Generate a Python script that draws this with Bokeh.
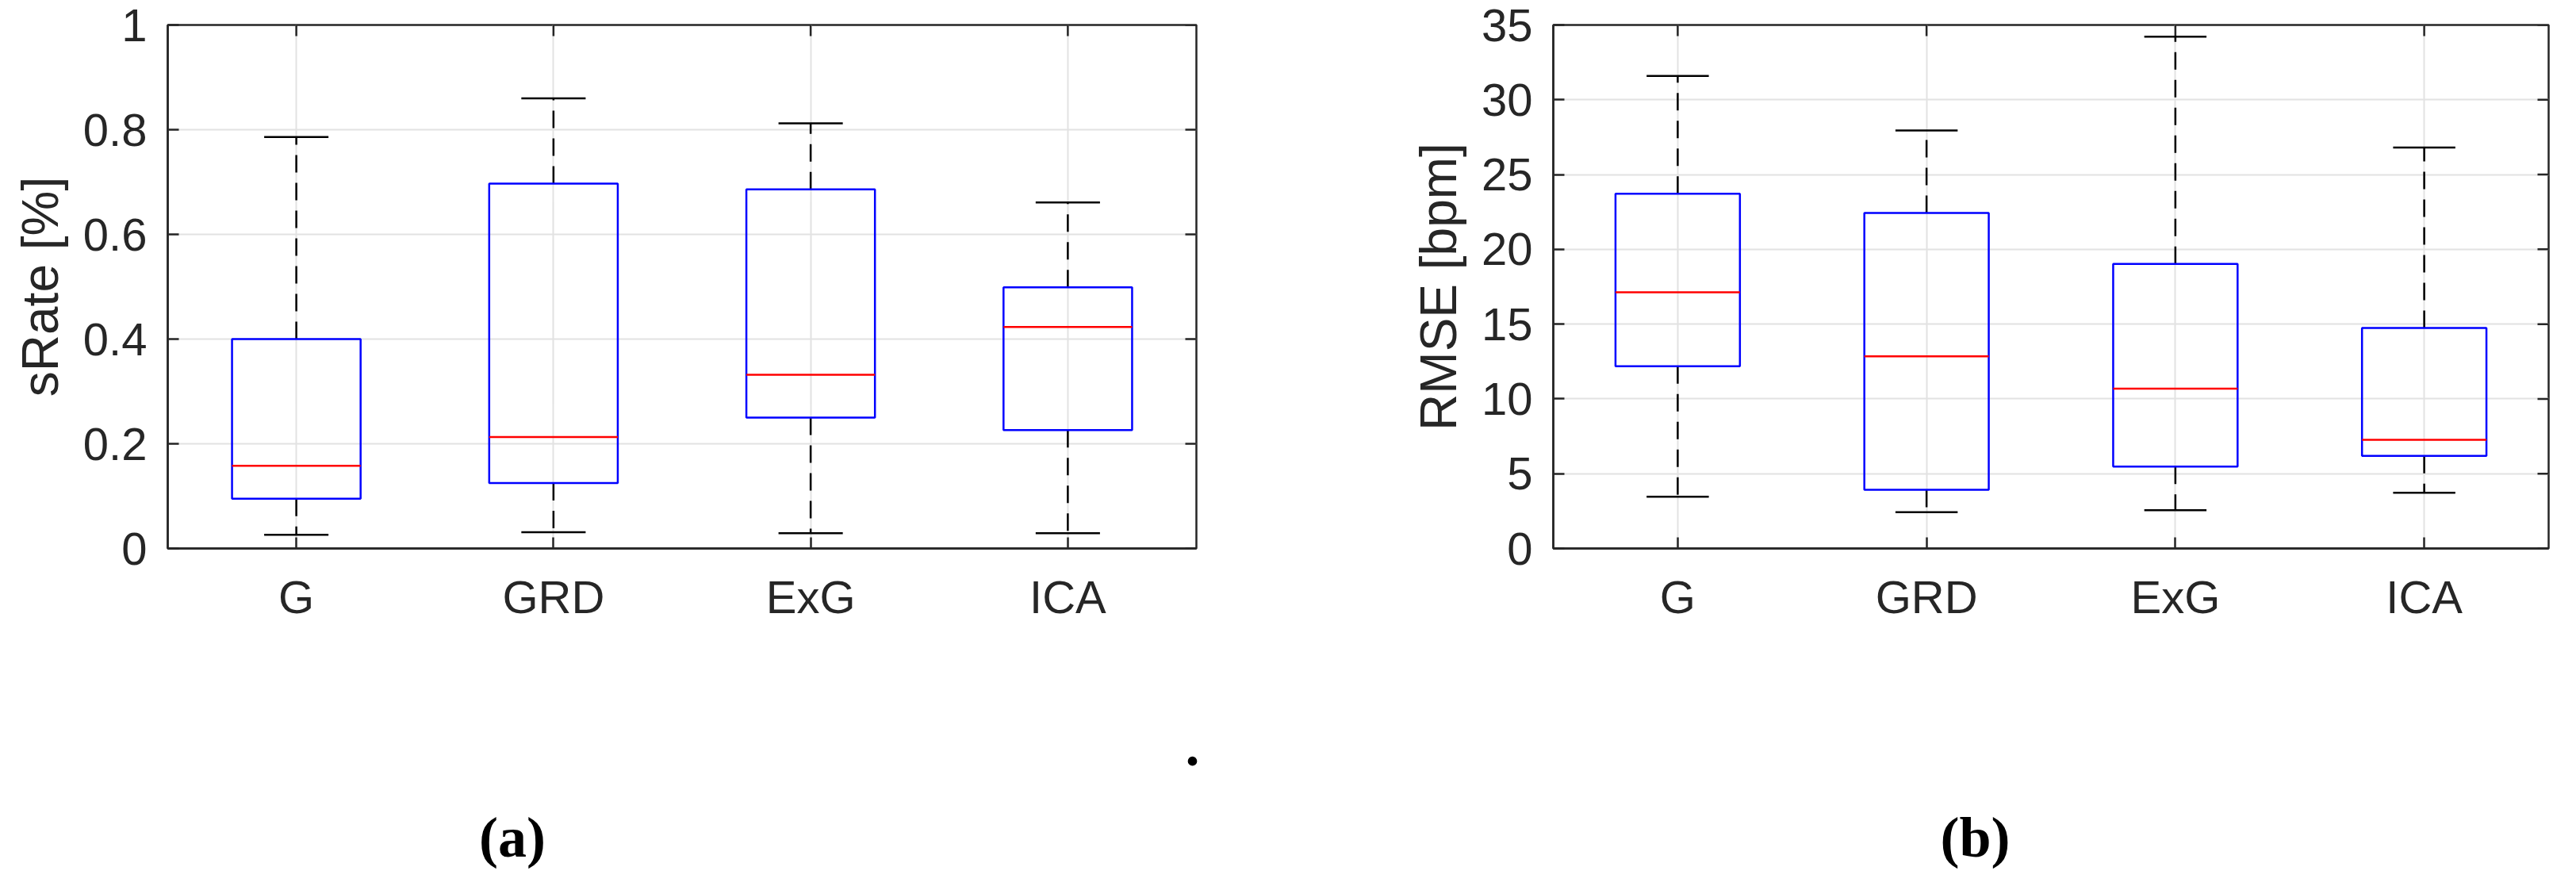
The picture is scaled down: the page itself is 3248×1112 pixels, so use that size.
import numpy as np
from bokeh.plotting import figure
from bokeh.models import Range1d, FixedTicker
from bokeh.layouts import row, column
from bokeh.core.properties import value
from bokeh.embed import file_html
from bokeh.resources import INLINE

# ---------------- data ----------------
categories = ["G", "GRD", "ExG", "ICA"]

srate_lower = [0.026, 0.031, 0.029, 0.029]
srate_q1 = [0.095, 0.125, 0.250, 0.226]
srate_median = [0.158, 0.213, 0.332, 0.423]
srate_q3 = [0.400, 0.697, 0.686, 0.499]
srate_upper = [0.786, 0.860, 0.812, 0.661]

rmse_lower = [3.46, 2.43, 2.56, 3.73]
rmse_q1 = [12.18, 3.92, 5.48, 6.19]
rmse_median = [17.13, 12.84, 10.68, 7.27]
rmse_q3 = [23.72, 22.43, 19.03, 14.74]
rmse_upper = [31.59, 27.95, 34.22, 26.81]

srate_ticks = [0, 0.2, 0.4, 0.6, 0.8, 1]
srate_tick_labels = ["0", "0.2", "0.4", "0.6", "0.8", "1"]
rmse_ticks = [0, 5, 10, 15, 20, 25, 30, 35]
rmse_tick_labels = ["0", "5", "10", "15", "20", "25", "30", "35"]

captions = ["(a)", ".", "(b)"]

AX = "#262626"
TICK_FONT = "Liberation Sans"
TOP_H = 820          # height of the two chart figures
PAGE_W = 3232
PAGE_H = 1096
FRAME_TOP = 31
FRAME_H = 660


def style_axis(ax, ticks, labels):
    ax.ticker = FixedTicker(ticks=ticks)
    ax.axis_line_color = AX
    ax.axis_line_width = 2.5
    ax.major_tick_in = 14
    ax.major_tick_out = 0
    ax.major_tick_line_color = AX
    ax.major_tick_line_width = 2.5
    ax.minor_tick_line_color = None
    ax.major_label_text_font = TICK_FONT
    ax.major_label_text_color = AX
    ax.major_label_text_font_size = "58px"
    ax.major_label_overrides = {t: l for t, l in zip(ticks, labels)}


def make_box_fig(width, b_left, b_right, ymax, yticks, ylabels, ylabel,
                 lower, q1, med, q3, upper):
    xmax = len(categories) + 0.5
    p = figure(width=width, height=TOP_H,
               x_range=Range1d(0.5, xmax),
               y_range=Range1d(0, ymax),
               output_backend="svg", toolbar_location=None,
               min_border_left=b_left, min_border_right=b_right,
               min_border_top=FRAME_TOP,
               min_border_bottom=TOP_H - FRAME_TOP - FRAME_H)
    p.outline_line_color = AX
    p.outline_line_width = 2.5
    p.background_fill_color = "white"
    p.border_fill_color = "white"

    xpos = np.arange(1, len(categories) + 1)
    xticks = list(xpos)

    style_axis(p.xaxis[0], xticks, categories)
    p.xaxis[0].major_label_standoff = 28
    style_axis(p.yaxis[0], yticks, ylabels)
    p.yaxis[0].major_label_standoff = 26
    p.yaxis[0].axis_label = ylabel
    p.yaxis[0].axis_label_text_font = TICK_FONT
    p.yaxis[0].axis_label_text_font_size = "64px"
    p.yaxis[0].axis_label_text_font_style = "normal"
    p.yaxis[0].axis_label_text_color = AX
    p.yaxis[0].axis_label_standoff = 15

    p.xgrid.ticker = FixedTicker(ticks=xticks)
    p.ygrid.ticker = FixedTicker(ticks=yticks)
    for g in (p.xgrid, p.ygrid):
        g.grid_line_color = "#e2e2e2"
        g.grid_line_width = 2

    # inward ticks on the top and right edges (half of each dash is clipped)
    p.scatter(x=xpos, y=[ymax] * len(xpos), marker="dash", size=28,
              angle=np.pi / 2, line_color=AX, line_width=2.5)
    p.scatter(x=[xmax] * len(yticks), y=yticks, marker="dash", size=28,
              line_color=AX, line_width=2.5)

    half = 0.25
    cap = 0.125
    p.segment(x0=xpos, y0=q3, x1=xpos, y1=upper, line_color="black",
              line_width=2.5, line_dash="22 13")
    p.segment(x0=xpos, y0=q1, x1=xpos, y1=lower, line_color="black",
              line_width=2.5, line_dash="22 13")
    p.vbar(x=xpos, width=2 * half, bottom=q1, top=q3, fill_color=None,
           line_color="#0000ff", line_width=2.5)
    p.segment(x0=xpos - half, y0=med, x1=xpos + half, y1=med,
              line_color="#ff0000", line_width=2.5)
    p.segment(x0=xpos - cap, y0=upper, x1=xpos + cap, y1=upper,
              line_color="black", line_width=2.5)
    p.segment(x0=xpos - cap, y0=lower, x1=xpos + cap, y1=lower,
              line_color="black", line_width=2.5)
    return p


pa = make_box_fig(1600, 211, 92, 1, srate_ticks, srate_tick_labels,
                  "sRate [%]", srate_lower, srate_q1, srate_median,
                  srate_q3, srate_upper)
pb = make_box_fig(1632, 358, 19, 35, rmse_ticks, rmse_tick_labels,
                  "RMSE [bpm]", rmse_lower, rmse_q1, rmse_median,
                  rmse_q3, rmse_upper)

# caption strip (pixel-like coordinates, y measured downward from its top)
cap_h = PAGE_H - TOP_H
pc = figure(width=PAGE_W, height=cap_h, title=None,
            x_range=Range1d(0, PAGE_W), y_range=Range1d(cap_h, 0),
            x_axis_type=None, y_axis_type=None,
            output_backend="svg", toolbar_location=None,
            min_border=0, min_border_left=0, min_border_right=0,
            min_border_top=0, min_border_bottom=0)
pc.outline_line_color = None
pc.xgrid.visible = False
pc.ygrid.visible = False
cap_x = [645.5, 1503, 2490]
cap_y = [235, 121, 235]
pc.text(x=cap_x, y=cap_y, text=captions,
        text_font=value("Liberation Serif"), text_font_style="bold",
        text_font_size="72px", text_align="center",
        text_baseline="middle", text_line_height=1.0,
        text_color="black")

layout = column(row(pa, pb, spacing=0), pc, spacing=0)
open("out.html", "w").write(file_html(layout, INLINE))
